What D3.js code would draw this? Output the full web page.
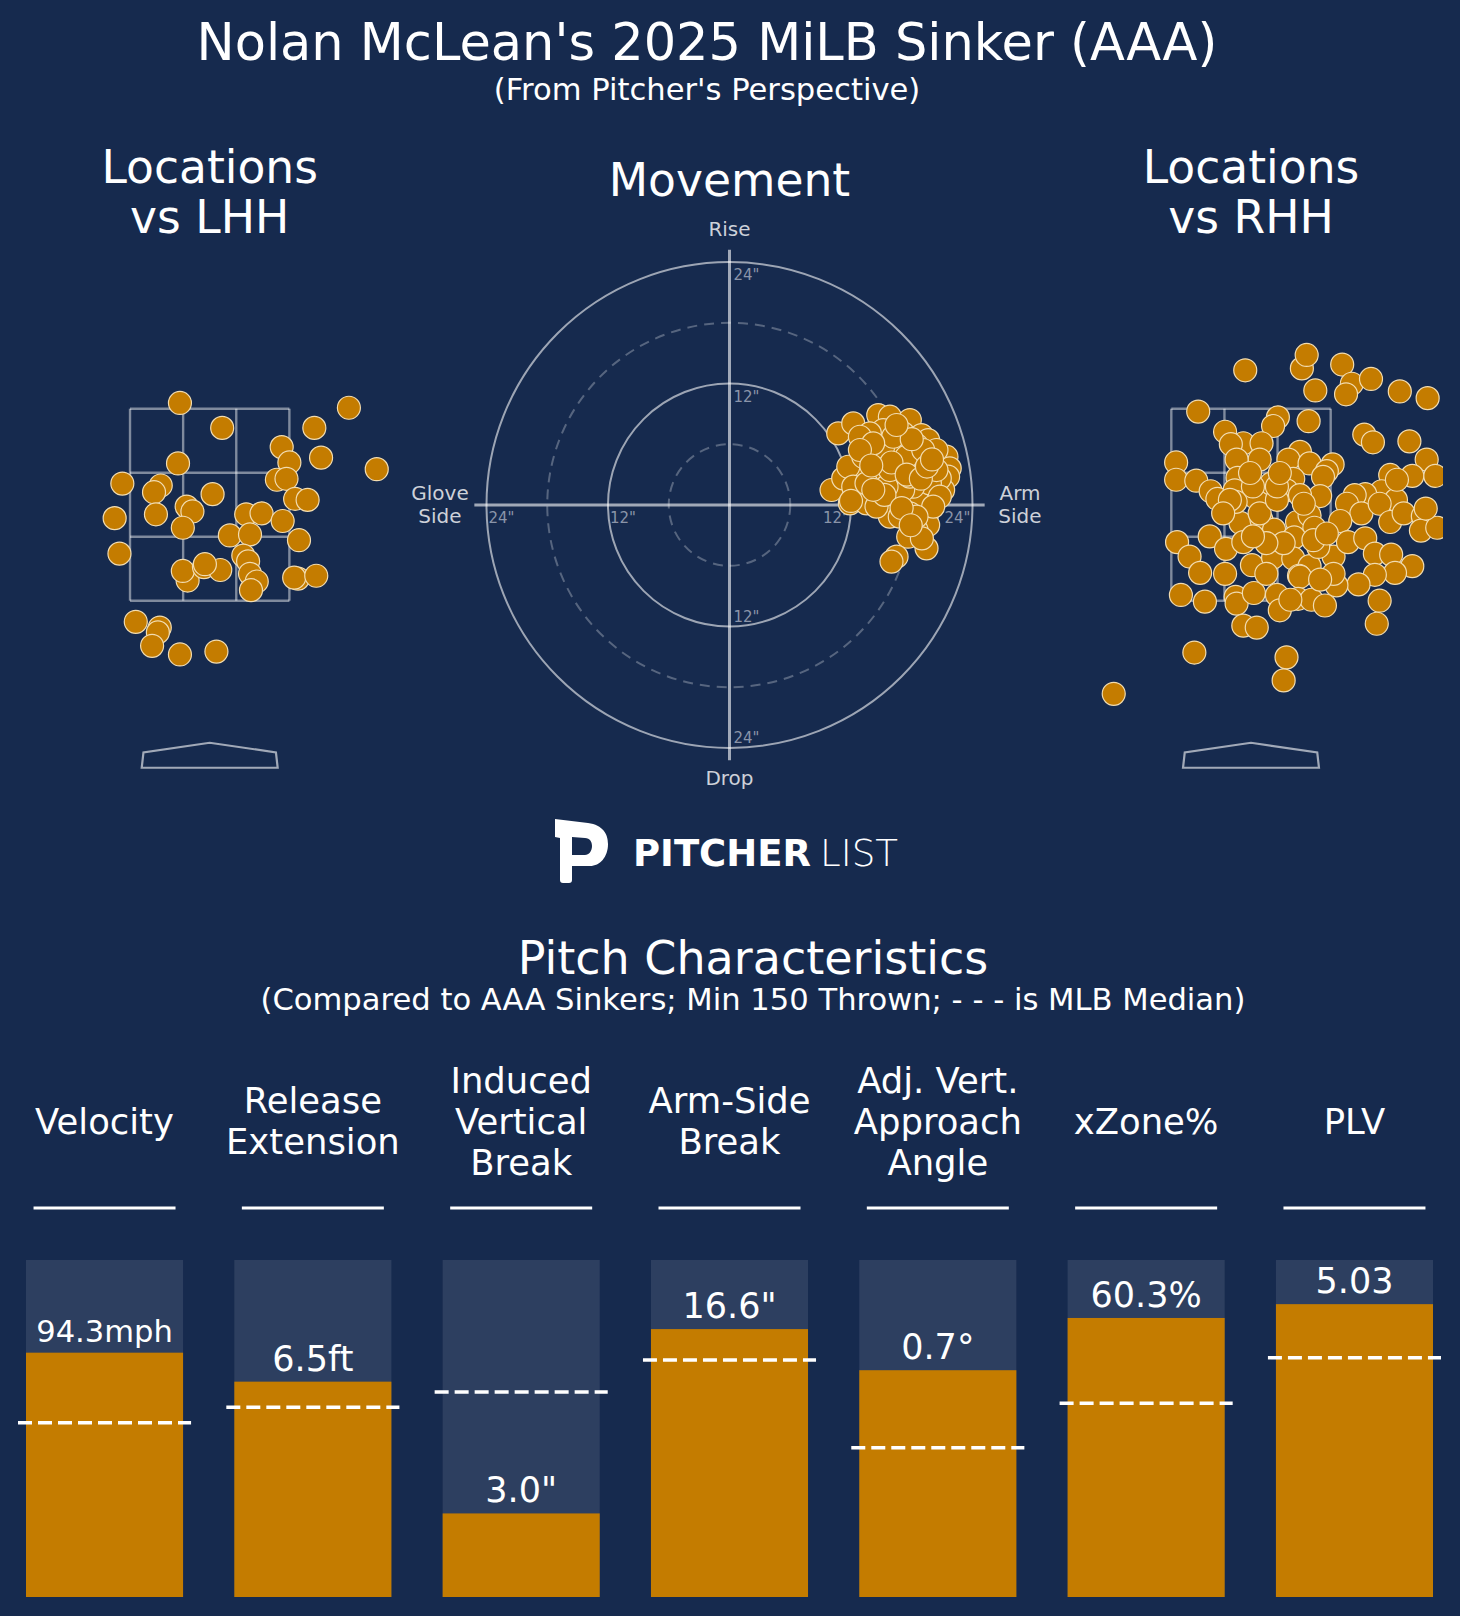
<!DOCTYPE html>
<html>
<head>
<meta charset="utf-8">
<script src="https://cdn.jsdelivr.net/npm/d3@7"></script>
<style>
  body { margin: 0; background: #162a4e; }
  text { font-family: "DejaVu Sans", sans-serif; }
</style>
</head>
<body>
<script>
// ---- data ----
// pitch locations, feet (plate_x, plate_z), pitcher's view
const lhhX = [-0.31,0.13,1.45,1.09,0.75,0.83,1.16,1.74,-0.33,-0.91,-0.51,-0.58,0.03,0.70,0.80,0.89,1.02,-0.99,-0.56,-0.24,-0.18,-0.28,0.38,0.54,0.76,0.21,0.42,0.93,-0.94,0.35,0.40,0.42,0.49,0.43,-0.23,-0.28,-0.06,0.11,0.92,0.88,1.11,-0.77,-0.52,-0.54,-0.60,-0.31,0.07,-0.05];
const lhhZ = [3.56,3.30,3.51,3.30,3.10,2.94,2.99,2.87,2.93,2.72,2.70,2.63,2.61,2.76,2.77,2.56,2.55,2.36,2.40,2.48,2.43,2.26,2.40,2.41,2.33,2.18,2.19,2.13,1.99,1.97,1.91,1.78,1.70,1.61,1.71,1.81,1.85,1.82,1.73,1.74,1.76,1.28,1.22,1.17,1.03,0.94,0.97,1.88];

const rhhX = [-0.06,0.53,0.58,0.95,1.05,0.99,0.67,1.25,1.55,1.84,-0.55,0.28,0.23,0.60,-0.27,-0.08,-0.21,0.11,0.09,-0.15,
  0.51,0.39,0.61,0.85,0.79,0.75,1.18,1.27,1.65,1.83,-0.78,-0.78,-0.57,-0.42,-0.35,-0.14,-0.17,0.05,0.21,0.44,
  0.37,0.72,1.45,1.68,1.92,1.36,1.51,1.19,1.08,1.00,1.15,0.93,1.34,1.45,1.59,1.79,1.77,1.94,1.82,1.52,
  -0.11,0.11,0.24,0.48,0.61,0.66,0.45,-0.77,-0.43,-0.26,-0.08,-0.64,-0.53,-0.27,0.01,0.23,0.44,0.61,0.50,0.86,
  1.01,1.19,1.29,1.46,1.68,1.50,1.29,1.12,0.89,0.70,0.51,-0.73,-0.48,-0.16,-0.15,0.03,0.27,0.30,0.49,0.63,
  0.77,1.34,1.31,-0.08,0.06,-0.59,0.37,0.34,-1.43,0.16,-0.16,0.51,0.55,-0.22,0.09,0.27,-0.29,0.41,0.34,0.86,
  0.72,0.27,0.02,-0.01,0.30,0.65,0.79,0.16,0.02];
const rhhZ = [3.90,3.92,4.06,3.96,3.76,3.65,3.69,3.81,3.68,3.61,3.47,3.41,3.32,3.37,3.26,3.14,3.13,3.14,2.97,2.97,
  3.05,2.97,2.93,2.92,2.85,2.79,3.23,3.15,3.16,2.97,2.94,2.76,2.75,2.64,2.56,2.78,2.65,2.57,2.72,2.77,
  2.65,2.59,2.81,2.80,2.80,2.64,2.55,2.61,2.60,2.51,2.41,2.33,2.51,2.32,2.41,2.38,2.23,2.26,2.46,2.76,
  2.31,2.34,2.24,2.32,2.39,2.26,2.16,2.11,2.17,2.04,2.11,1.96,1.79,1.78,1.87,1.95,1.94,1.86,1.76,1.96,
  2.11,2.15,1.99,1.98,1.86,1.79,1.77,1.67,1.66,2.06,1.75,1.56,1.49,1.54,1.47,1.58,1.56,1.40,1.52,1.51,
  1.45,1.50,1.26,1.24,1.22,0.96,0.91,0.67,0.53,1.78,2.53,2.60,2.51,2.55,2.41,2.55,2.41,1.51,2.10,1.78,
  1.72,2.69,2.69,2.83,2.83,2.13,2.20,2.10,2.17];

// movement, inches (arm side +, induced vertical break +)
const hBreak = [10.74,12.22,14.69,15.84,17.81,18.96,19.62,21.43,21.75,21.59,21.10,19.95,19.46,19.62,18.47,17.65,19.46,16.50,16.00,10.08,
  11.23,11.89,13.86,15.01,15.51,16.76,18.63,17.81,15.84,13.53,14.85,16.99,18.80,18.47,16.82,15.18,13.86,12.88,11.73,13.21,
  17.15,20.44,20.77,19.79,18.14,16.33,14.52,12.22,13.53,17.15,15.18,20.44,17.48,16.17,14.19,12.88,14.52,16.82,20.77,20.12,
  18.47,15.51,13.53,15.84,17.81,19.13,16.0,17.5,18.9,19.5,15.3,14.0,17.0,18.0,20.0,16.5,12.0,19.0,17.9,14.2];
const iVB = [7.07,8.06,8.88,8.72,8.39,6.91,6.41,4.77,3.62,2.80,1.48,0.49,-1.15,-1.97,-2.47,-3.13,-4.28,-5.10,-5.59,1.48,
  2.63,0.16,1.15,0.66,-0.16,0.16,0.33,-0.82,-1.15,3.13,4.61,3.45,4.11,5.92,5.76,7.40,7.07,6.74,3.78,4.77,
  7.07,5.43,2.63,2.14,1.81,2.14,2.47,1.81,0.16,1.48,5.76,3.45,4.77,6.74,6.09,5.43,-0.16,-1.15,0.82,-0.16,
  -1.15,1.81,2.14,3.45,2.80,5.43,4.2,3.0,2.6,3.8,1.0,3.9,-0.3,6.5,4.5,7.9,0.4,-3.3,-2.0,1.5];

// pitch characteristics
const statNames = ["Velocity", "Release Extension", "Induced Vertical Break", "Arm-Side Break",
  "Adj. Vert. Approach Angle", "xZone%", "PLV"];
const statTitleLines = [["Velocity"], ["Release", "Extension"], ["Induced", "Vertical", "Break"],
  ["Arm-Side", "Break"], ["Adj. Vert.", "Approach", "Angle"], ["xZone%"], ["PLV"]];
const statValueLabels = ["94.3mph", "6.5ft", "3.0\"", "16.6\"", "0.7\u00b0", "60.3%", "5.03"];
const statPercentile = [0.725, 0.639, 0.248, 0.795, 0.673, 0.828, 0.869];
const statMedianPct = [0.517, 0.563, 0.608, 0.703, 0.443, 0.575, 0.710];

// ---- drawing ----
const W = 1460, H = 1616;
const BG = "#162a4e", ORANGE = "#c47c00", PANEL = "#2d3f60";
const DOT_R = 11.5, DOT_STROKE = "#f2dcb0";

const svg = d3.select("body").append("svg")
  .attr("width", W)
  .attr("height", H);

svg.append("rect").attr("width", W).attr("height", H).attr("fill", BG);

// titles
svg.append("text")
  .attr("x", 707).attr("y", 60)
  .attr("text-anchor", "middle")
  .attr("font-size", 51)
  .attr("fill", "#fff")
  .text("Nolan McLean's 2025 MiLB Sinker (AAA)");

svg.append("text")
  .attr("x", 707).attr("y", 100)
  .attr("text-anchor", "middle")
  .attr("font-size", 30.6)
  .attr("fill", "#fff")
  .text("(From Pitcher's Perspective)");

//location panels
const zScale = d3.scaleLinear().domain([0, 4.7]).range([744.7, 744.7 - 4.7 * 96]);
const zoneX = [-0.83, -0.2767, 0.2767, 0.83];
const zoneZ = [1.5, 2.1667, 2.8333, 3.5];
const plate = [[-0.708, -0.24], [0.708, -0.24], [0.69, -0.08], [0, 0.02], [-0.69, -0.08]];

function drawLocations(cx, title, xs, zs, id) {
  const xScale = d3.scaleLinear().domain([-2, 2]).range([cx - 192, cx + 192]);
  const g = svg.append("g");

  g.selectAll("text.title")
    .data(title)
    .join("text")
    .attr("class", "title")
    .attr("x", cx)
    .attr("y", (d, i) => 183 + i * 50)
    .attr("text-anchor", "middle")
    .attr("font-size", 45.6)
    .attr("fill", "#fff")
    .text((d) => d);

  svg.append("clipPath").attr("id", id)
    .append("rect")
    .attr("x", xScale(-2)).attr("y", zScale(4.7))
    .attr("width", xScale(2) - xScale(-2))
    .attr("height", zScale(-0.6) - zScale(4.7));

  const zone = g.append("g")
    .attr("stroke", "rgba(255,255,255,0.45)")
    .attr("stroke-width", 2.4)
    .attr("fill", "none");
  zone.selectAll("line.v")
    .data(zoneX)
    .join("line")
    .attr("class", "v")
    .attr("x1", (d) => xScale(d)).attr("x2", (d) => xScale(d))
    .attr("y1", zScale(zoneZ[0])).attr("y2", zScale(zoneZ[3]));
  zone.selectAll("line.h")
    .data(zoneZ)
    .join("line")
    .attr("class", "h")
    .attr("x1", xScale(zoneX[0])).attr("x2", xScale(zoneX[3]))
    .attr("y1", (d) => zScale(d)).attr("y2", (d) => zScale(d));

  g.append("polygon")
    .attr("points", plate.map((p) => [xScale(p[0]), zScale(p[1])].join(",")).join(" "))
    .attr("fill", "none")
    .attr("stroke", "rgba(255,255,255,0.6)")
    .attr("stroke-width", 2.2);

  g.append("g")
    .attr("clip-path", `url(#${id})`)
    .selectAll("circle")
    .data(xs.map((x, i) => ({ x: x, z: zs[i] })))
    .join("circle")
    .attr("cx", (d) => xScale(d.x))
    .attr("cy", (d) => zScale(d.z))
    .attr("r", DOT_R)
    .attr("fill", ORANGE)
    .attr("stroke", DOT_STROKE)
    .attr("stroke-width", 1.2);
}

drawLocations(209.7, ["Locations", "vs LHH"], lhhX, lhhZ, "clipL");
drawLocations(1251, ["Locations", "vs RHH"], rhhX, rhhZ, "clipR");

// movement
const mcx = 729.5, mcy = 505;
const rScale = d3.scaleLinear().domain([0, 24]).range([0, 243]);
const mvX = d3.scaleLinear().domain([-24, 24]).range([mcx - 243, mcx + 243]);
const mvY = d3.scaleLinear().domain([-24, 24]).range([mcy + 243, mcy - 243]);

svg.append("text")
  .attr("x", mcx).attr("y", 196)
  .attr("text-anchor", "middle")
  .attr("font-size", 45.6)
  .attr("fill", "#fff")
  .text("Movement");

const mv = svg.append("g");
mv.selectAll("circle.ring")
  .data([6, 12, 18, 24])
  .join("circle")
  .attr("class", "ring")
  .attr("cx", mcx).attr("cy", mcy)
  .attr("r", (d) => rScale(d))
  .attr("fill", "none")
  .attr("stroke", (d) => (d % 12 == 0 ? "rgba(255,255,255,0.58)" : "rgba(255,255,255,0.28)"))
  .attr("stroke-width", 2)
  .attr("stroke-dasharray", (d) => (d % 12 == 0 ? null : "10,7"));

mv.append("line")
  .attr("x1", mvX(-25.2)).attr("x2", mvX(25.2))
  .attr("y1", mvY(0)).attr("y2", mvY(0))
  .attr("stroke", "rgba(255,255,255,0.6)").attr("stroke-width", 3);
mv.append("line")
  .attr("x1", mvX(0)).attr("x2", mvX(0))
  .attr("y1", mvY(25.2)).attr("y2", mvY(-25.2))
  .attr("stroke", "rgba(255,255,255,0.6)").attr("stroke-width", 3);

const tickCol = "#8a94a9";
// vertical ticks
mv.selectAll("text.vt")
  .data([24, 12, -12, -24])
  .join("text")
  .attr("class", "vt")
  .attr("x", mvX(0) + 4)
  .attr("y", (d) => (d > 0 ? mvY(d) + 18 : mvY(d) - 5))
  .attr("font-size", 15)
  .attr("fill", tickCol)
  .text((d) => Math.abs(d) + "\"");
// horizontal ticks
mv.selectAll("text.ht")
  .data([-24, -12, 12, 24])
  .join("text")
  .attr("class", "ht")
  .attr("x", (d) => (d < 0 ? mvX(d) + 2 : mvX(d) - 2))
  .attr("y", mvY(0) + 18)
  .attr("text-anchor", (d) => (d < 0 ? "start" : "end"))
  .attr("font-size", 15)
  .attr("fill", tickCol)
  .text((d) => Math.abs(d) + "\"");

const sideCol = "#cdd1d9";
mv.append("text").attr("x", mcx).attr("y", 236).attr("text-anchor", "middle")
  .attr("font-size", 20).attr("fill", sideCol).text("Rise");
mv.append("text").attr("x", mcx).attr("y", 785).attr("text-anchor", "middle")
  .attr("font-size", 20).attr("fill", sideCol).text("Drop");
[["Glove", "Side", 440], ["Arm", "Side", 1020]].forEach((s) => {
  mv.selectAll(null)
    .data(s.slice(0, 2))
    .join("text")
    .attr("x", s[2])
    .attr("y", (d, i) => 500 + i * 23)
    .attr("text-anchor", "middle")
    .attr("font-size", 20)
    .attr("fill", sideCol)
    .text((d) => d);
});

mv.append("g")
  .selectAll("circle")
  .data(hBreak.map((h, i) => ({ h: h, v: iVB[i] })))
  .join("circle")
  .attr("cx", (d) => mvX(d.h))
  .attr("cy", (d) => mvY(d.v))
  .attr("r", DOT_R)
  .attr("fill", ORANGE)
  .attr("stroke", DOT_STROKE)
  .attr("stroke-width", 1.2);

// logo
const logo = svg.append("g").attr("fill", "#fff");
logo.append("path")
  .attr("fill-rule", "evenodd")
  .attr("d", "M555,819 L588,823 C603,825 608,834 608,844 C608,857 600,866 590,866 L572,866 L572,880 " +
    "C572,882 571,883 569,883 L563,883 C561,883 560,882 560,880 L560,838 L555,837 Z " +
    "M572,837 L585,838 C590,838 592,842 592,846 C592,851 589,855 585,855 L572,855 Z");
logo.append("text")
  .attr("x", 633).attr("y", 866)
  .attr("font-family", "Lato, 'Open Sans', sans-serif")
  .attr("font-weight", 700)
  .attr("font-size", 37)
  .attr("textLength", 178)
  .attr("lengthAdjust", "spacingAndGlyphs")
  .text("PITCHER");
logo.append("text")
  .attr("x", 820).attr("y", 866)
  .attr("font-family", "Lato, 'Open Sans', sans-serif")
  .attr("font-weight", 300)
  .attr("font-size", 37)
  .attr("textLength", 78)
  .attr("lengthAdjust", "spacingAndGlyphs")
  .text("LIST");

// pitch characteristics
svg.append("text")
  .attr("x", 753).attr("y", 974)
  .attr("text-anchor", "middle")
  .attr("font-size", 46)
  .attr("fill", "#fff")
  .text("Pitch Characteristics");
svg.append("text")
  .attr("x", 753).attr("y", 1010)
  .attr("text-anchor", "middle")
  .attr("font-size", 30.6)
  .attr("fill", "#fff")
  .text("(Compared to AAA Sinkers; Min 150 Thrown; - - - is MLB Median)");

const xBand = d3.scaleBand()
  .domain(statNames)
  .range([26, 1433])
  .paddingInner(0.246)
  .paddingOuter(0);
const bw = xBand.bandwidth();
const yPct = d3.scaleLinear().domain([0, 1]).range([1597, 1260]);

const stats = statNames.map((n, i) => ({
  name: n,
  lines: statTitleLines[i],
  label: statValueLabels[i],
  pct: statPercentile[i],
  med: statMedianPct[i]
}));

const col = svg.append("g")
  .selectAll("g")
  .data(stats)
  .join("g")
  .attr("transform", (d) => `translate(${xBand(d.name)},0)`);

col.each(function (d) {
  const g = d3.select(this);
  const n = d.lines.length;
  g.selectAll("text.head")
    .data(d.lines)
    .join("text")
    .attr("class", "head")
    .attr("x", bw / 2)
    .attr("y", (t, i) => 1121 + (i - (n - 1) / 2) * 41 + 12.5)
    .attr("text-anchor", "middle")
    .attr("font-size", 35.4)
    .attr("fill", "#fff")
    .text((t) => t);
});

col.append("line")
  .attr("x1", bw / 2 - 71).attr("x2", bw / 2 + 71)
  .attr("y1", 1208).attr("y2", 1208)
  .attr("stroke", "#fff").attr("stroke-width", 3);

col.append("rect")
  .attr("x", 0).attr("width", bw)
  .attr("y", yPct(1))
  .attr("height", yPct(0) - yPct(1))
  .attr("fill", PANEL);

col.append("rect")
  .attr("x", 0).attr("width", bw)
  .attr("y", (d) => yPct(d.pct))
  .attr("height", (d) => yPct(0) - yPct(d.pct))
  .attr("fill", ORANGE);

col.append("line")
  .attr("x1", -8).attr("x2", bw + 8)
  .attr("y1", (d) => yPct(d.med)).attr("y2", (d) => yPct(d.med))
  .attr("stroke", "#fff")
  .attr("stroke-width", 3.5)
  .attr("stroke-dasharray", "14,6");

col.append("text")
  .attr("x", bw / 2)
  .attr("y", (d) => yPct(d.pct) - 11)
  .attr("text-anchor", "middle")
  .attr("font-size", 35)
  .attr("fill", "#fff")
  .text((d) => d.label)
  .each(function () {
    const len = this.getComputedTextLength();
    if (len > bw * 0.87) {
      d3.select(this).attr("font-size", 35 * bw * 0.87 / len);
    }
  });
</script>
</body>
</html>
